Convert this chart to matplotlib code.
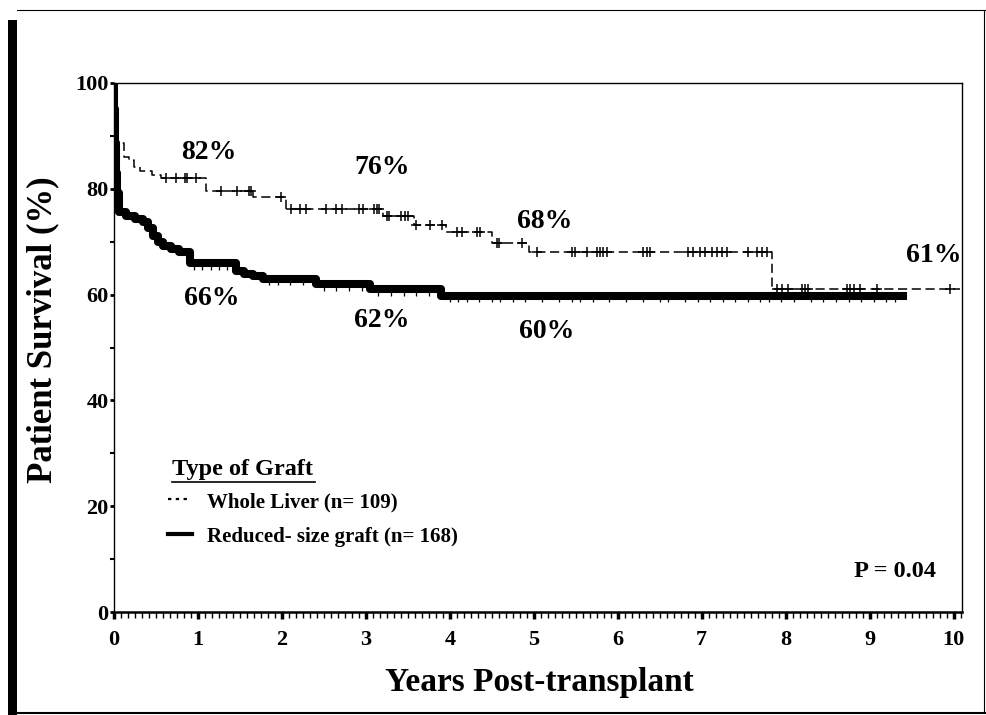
import numpy as np
import matplotlib
matplotlib.use("Agg")
import matplotlib.pyplot as plt
from matplotlib.ticker import MultipleLocator

plt.rcParams['font.family'] = ['Liberation Serif', 'DejaVu Serif']
plt.rcParams['font.weight'] = 'bold'

# Whole liver: step times (years) and survival (%) after each step
whole_t = [0, 0.02, 0.12, 0.18, 0.24, 0.31, 0.45, 0.56, 1.10, 1.65, 2.05,
           3.20, 3.57, 3.95, 4.50, 4.94, 7.84]
whole_s = [100, 88.7, 86.1, 85.5, 84.2, 83.3, 82.7, 82.1, 79.5, 78.4, 76.1,
           74.8, 73.1, 71.8, 69.7, 68.0, 61.1]
whole_end = 10.08
whole_cens = [0.62, 0.74, 0.84, 0.87, 0.98, 1.28, 1.46, 1.61, 1.63, 1.99,
              2.11, 2.21, 2.29, 2.53, 2.65, 2.72, 2.92, 2.96, 3.10, 3.13, 3.16,
              3.25, 3.28, 3.42, 3.46, 3.50, 3.60, 3.76, 3.91, 4.09, 4.14,
              4.32, 4.36, 4.56, 4.59, 4.86, 5.04, 5.45, 5.49, 5.63, 5.75, 5.79,
              5.82, 5.87, 6.30, 6.35, 6.38, 6.84, 6.90, 6.98, 7.04, 7.12, 7.18,
              7.24, 7.30, 7.55, 7.66, 7.72, 7.78, 7.90, 7.96, 8.03, 8.20, 8.23,
              8.27, 8.73, 8.77, 8.81, 8.89, 9.09, 9.96]

# Reduced-size graft
red_t = [0, 0.005, 0.01, 0.02, 0.04, 0.06, 0.14, 0.25, 0.34, 0.40, 0.46,
         0.52, 0.58, 0.68, 0.78, 0.90, 1.45, 1.55, 1.65, 1.77, 2.40, 3.05, 3.90]
red_s = [100, 95, 88.7, 83, 79.3, 75.6, 74.8, 74.2, 73.7, 72.5, 71.1,
         70.0, 69.2, 68.6, 68.0, 66.0, 64.5, 63.9, 63.5, 63.0, 62.0, 61.0, 59.8]
red_end = 9.4
red_cens = [0.95, 1.05, 1.15, 1.25, 1.35, 1.85, 1.95, 2.1, 2.25, 2.5, 2.65,
            2.8, 2.95, 3.15, 3.3, 3.45, 3.6, 3.75, 4.0, 4.1, 4.2, 4.35, 4.5,
            4.6, 4.75, 4.9, 5.1, 5.3, 5.45, 5.55, 5.7, 5.9, 6.1, 6.3, 6.5,
            6.6, 6.8, 6.95, 7.1, 7.25, 7.4, 7.55, 7.7, 7.8, 7.95, 8.1, 8.3,
            8.45, 8.6, 8.75, 8.9, 9.05, 9.2, 9.3]

# survival labels: (year, y, text)
labels_whole = [(1.13, 86.8, "82%"), (3.19, 84.0, "76%"), (5.13, 73.9, "68%"),
                (9.76, 67.3, "61%")]
labels_red = [(1.17, 59.2, "66%"), (3.19, 55.1, "62%"), (5.15, 53.0, "60%")]


def km_at(t, s, x):
    idx = np.searchsorted(t, x, side='right') - 1
    return np.asarray(s)[idx]


fig = plt.figure(figsize=(9.86, 7.15), dpi=100)
W, H = 986, 715
ax = fig.add_axes([114 / W, 1 - 612 / H, 848 / W, 529 / H])

# whole liver, dashed thin
wt = list(whole_t) + [whole_end]
ws = list(whole_s) + [whole_s[-1]]
ax.step(wt, ws, where='post', color='black', lw=1.1, dashes=(6, 3))
ax.plot(whole_cens, km_at(whole_t, whole_s, whole_cens), '+', color='black',
        ms=7, mew=1.1)

# reduced size, thick solid
rt = list(red_t) + [red_end]
rs = list(red_s) + [red_s[-1]]
ax.step(rt, rs, where='post', color='black', lw=5.8)
ax.plot(red_cens, km_at(red_t, red_s, red_cens) - 0.9, '|', color='black',
        ms=3, mew=0.9)

for x, y, t in labels_whole + labels_red:
    ax.text(x, y, t, fontsize=20, fontweight='bold', ha='center', va='center')

# legend drawn by hand
ax.text(0.69, 27.0, "Type of Graft", fontsize=17.5, fontweight='bold',
        ha='left', va='center')
ax.plot([0.69, 2.39], [24.5, 24.5], color='black', lw=1.2)
ax.plot([0.64, 0.90], [21.4, 21.4], color='black', lw=1.6, dashes=(1.5, 2))
ax.text(1.11, 20.7, "Whole Liver (n= 109)", fontsize=15, fontweight='bold',
        ha='left', va='center')
ax.plot([0.64, 0.93], [14.8, 14.8], color='black', lw=3)
ax.text(1.11, 14.1, "Reduced- size graft (n= 168)", fontsize=15,
        fontweight='bold', ha='left', va='center')

ax.text(9.79, 7.7, "P = 0.04", fontsize=17.5, fontweight='bold',
        ha='right', va='center')

ax.set_xlim(0, 10.1)
ax.set_ylim(0, 100)
ax.xaxis.set_major_locator(MultipleLocator(1))
ax.xaxis.set_minor_locator(MultipleLocator(1 / 12))
ax.yaxis.set_major_locator(MultipleLocator(20))
ax.yaxis.set_minor_locator(MultipleLocator(10))
ax.tick_params(axis='x', which='major', direction='out', length=5, width=2.5,
               labelsize=16, pad=8)
ax.tick_params(axis='x', which='minor', direction='out', length=4, width=1)
ax.tick_params(axis='y', which='major', direction='out', length=3, width=2,
               labelsize=16, pad=1)
ax.tick_params(axis='y', which='minor', direction='out', length=3, width=1.5)
for lab in ax.get_xticklabels() + ax.get_yticklabels():
    lab.set_fontweight('bold')

for side in ['top', 'right', 'left']:
    ax.spines[side].set_linewidth(1.0)
ax.spines['bottom'].set_linewidth(1.8)

ax.set_ylabel("Patient Survival (%)", fontsize=25, fontweight='bold')
ax.yaxis.set_label_coords(-0.064, 0.533)
ax.set_xlabel("Years Post-transplant", fontsize=24, fontweight='bold')
ax.xaxis.set_label_coords(0.502, -0.104)

# outer frame of the figure
fig.add_artist(plt.Rectangle((8 / W, 0), 9 / W, 1 - 20 / H,
                             transform=fig.transFigure, color='black', lw=0))
fig.add_artist(plt.Line2D([17 / W, 1], [1 - 10 / H, 1 - 10 / H],
                          transform=fig.transFigure, color='black', lw=0.8))
fig.add_artist(plt.Line2D([17 / W, 1], [1 - 713 / H, 1 - 713 / H],
                          transform=fig.transFigure, color='black', lw=1.5))
fig.add_artist(plt.Line2D([984 / W, 984 / W], [1 - 713 / H, 1 - 10 / H],
                          transform=fig.transFigure, color='black', lw=0.8))

fig.savefig("out.png", dpi=100)
